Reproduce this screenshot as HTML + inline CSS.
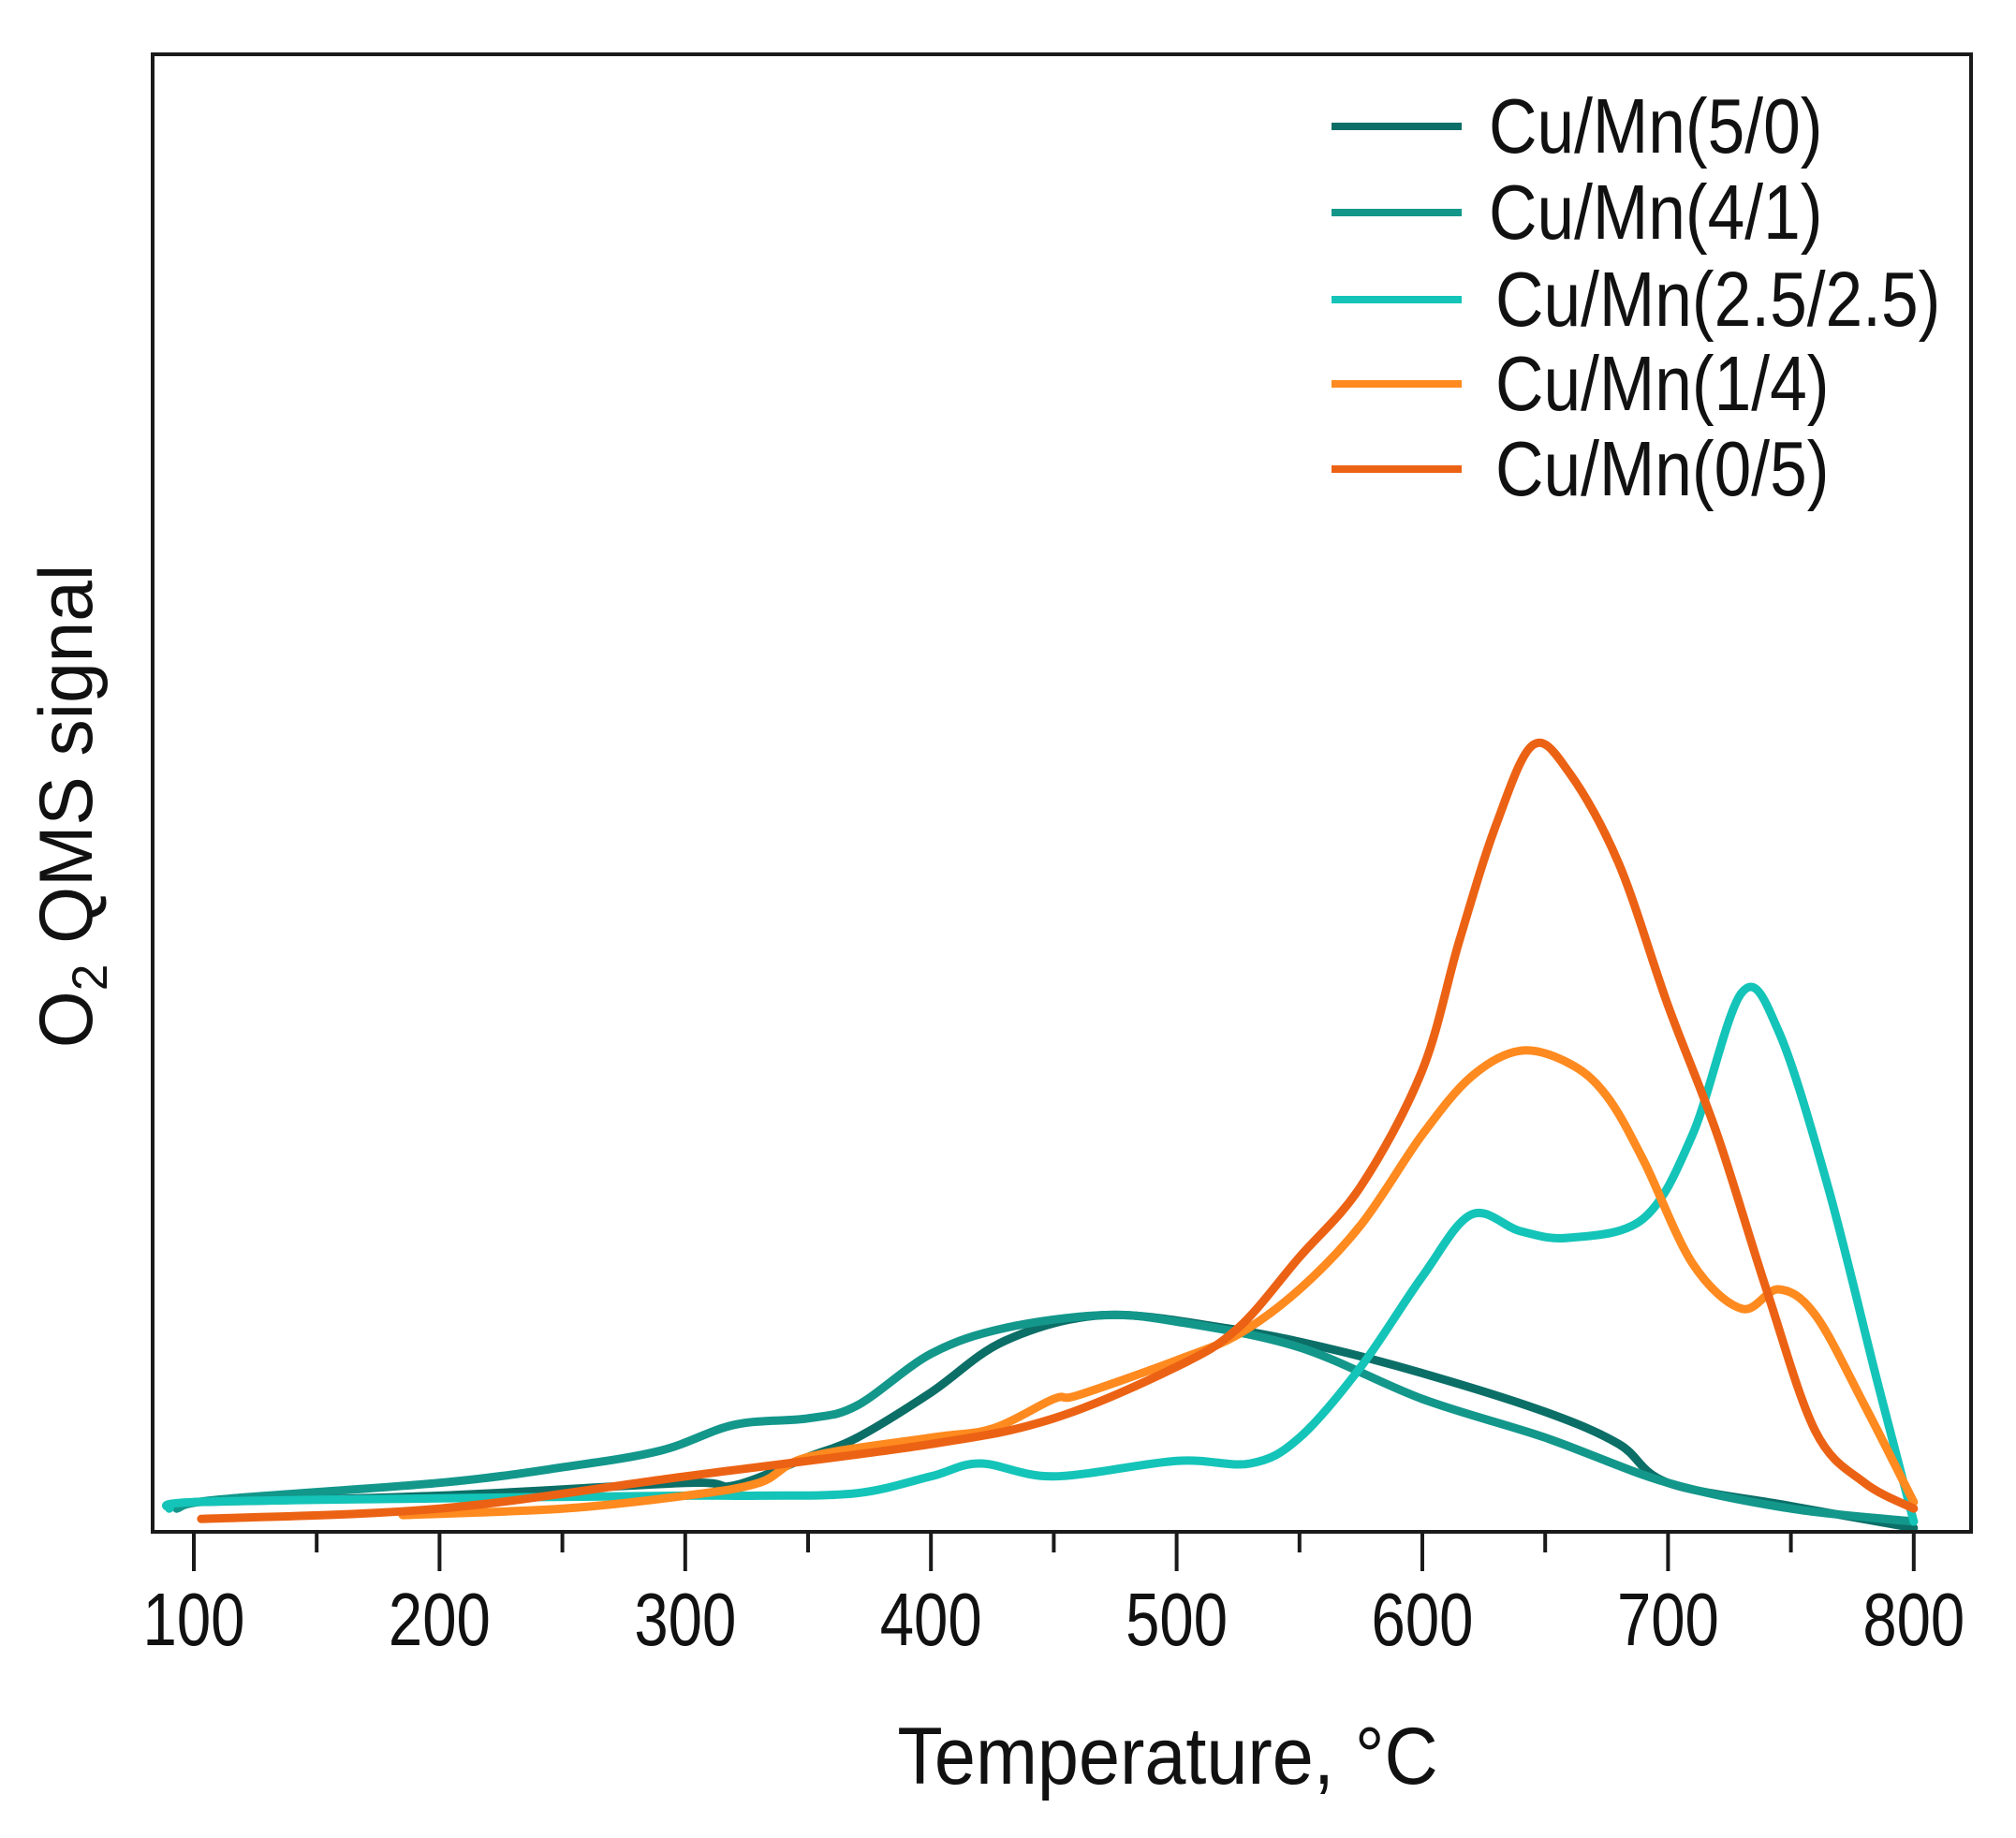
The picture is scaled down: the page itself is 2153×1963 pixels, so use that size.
<!DOCTYPE html>
<html><head><meta charset="utf-8"><style>
html,body{margin:0;padding:0;background:#fff;}
svg{display:block;font-family:"Liberation Sans",Arial,sans-serif;}
</style></head><body>
<svg id="chart" width="2153" height="1963" viewBox="0 0 2153 1963" xmlns="http://www.w3.org/2000/svg">
<rect x="0" y="0" width="2153" height="1963" fill="#fff"/>
<g id="series"></g>
<rect x="163" y="58" width="1942" height="1578" fill="none" stroke="#1a1a1a" stroke-width="4"/>
<g id="ticks"></g>
<text x="1247" y="1905" font-size="72" text-anchor="middle" fill="#111" transform="translate(1247 1905) scale(1.1 1.2) translate(-1247 -1905)">Temperature,  °C</text>
<text transform="translate(98 861) rotate(-90) scale(1.12 1.15)" font-size="70" text-anchor="middle" fill="#111">O<tspan font-size="46" dy="14">2</tspan><tspan dy="-14"> QMS signal</tspan></text>
<g id="legend"></g>
</svg>
<script>
var categories = ["Cu/Mn(5/0)","Cu/Mn(4/1)","Cu/Mn(2.5/2.5)","Cu/Mn(1/4)","Cu/Mn(0/5)"];
var colors = ["#0b6f67","#13978b","#14c4b8","#ff8a1f","#ec6214"];
var xTicks = [100,200,300,400,500,600,700,800];
var s50T = [100,200,300,320,350,370,400,430,470,520,560,600,650,680,700,750,800];
var s50V = [23,28,38,36,58,73,108,148,168,158,143,123,93,68,38,20,3];
var s41T = [93,110,200,250,290,320,350,370,400,430,470,500,550,600,650,700,750,800];
var s41V = [18,25,38,50,63,83,88,98,138,158,168,163,143,103,73,38,18,8];
var s25T = [90,100,200,300,330,370,400,420,450,500,530,550,575,600,620,640,660,690,710,730,745,765,785,800];
var s25V = [18,23,26,28,28,30,43,53,43,55,53,73,128,198,246,233,228,243,308,418,388,268,118,8];
var s14T = [185,250,300,330,350,400,425,450,460,500,525,550,575,600,620,640,660,675,690,710,730,745,760,780,800];
var s14V = [13,18,28,38,58,73,80,103,106,133,153,188,238,308,353,373,363,338,288,208,173,188,168,98,23];
var s05T = [103,200,300,400,450,500,525,550,575,600,615,630,645,660,680,700,720,740,760,780,800];
var s05V = [10,18,43,68,88,128,158,213,268,358,458,548,610,588,518,408,308,188,78,38,18];
var seriesT = [s50T,s41T,s25T,s14T,s05T];
var seriesV = [s50V,s41V,s25V,s14V,s05V];

var NS="http://www.w3.org/2000/svg";
function xs(t){return 207+(t-100)*2.624;}
function ys(v){return 1636-v*1.3775;}
function path(T,V){
  var p=T.map(function(t,i){return [xs(t),ys(V[i])];});
  var d="M"+p[0][0].toFixed(1)+","+p[0][1].toFixed(1);
  for(var i=0;i<p.length-1;i++){
    var p0=p[Math.max(0,i-1)],p1=p[i],p2=p[i+1],p3=p[Math.min(p.length-1,i+2)];
    var c1x=p1[0]+(p2[0]-p0[0])/6,c1y=p1[1]+(p2[1]-p0[1])/6;
    var c2x=p2[0]-(p3[0]-p1[0])/6,c2y=p2[1]-(p3[1]-p1[1])/6;
    d+=" C"+c1x.toFixed(1)+","+c1y.toFixed(1)+" "+c2x.toFixed(1)+","+c2y.toFixed(1)+" "+p2[0].toFixed(1)+","+p2[1].toFixed(1);
  }
  return d;
}
var sg=document.getElementById("series");
for(var k=0;k<categories.length;k++){
  var pe=document.createElementNS(NS,"path");
  pe.setAttribute("d",path(seriesT[k],seriesV[k]));
  pe.setAttribute("fill","none");
  pe.setAttribute("stroke",colors[k]);
  pe.setAttribute("stroke-width","9");
  pe.setAttribute("stroke-linecap","round");
  pe.setAttribute("stroke-linejoin","round");
  
  
  sg.appendChild(pe);
}
var tg=document.getElementById("ticks");
for(var t=100;t<=800;t+=50){
  var major=(t%100===0);
  var ln=document.createElementNS(NS,"line");
  ln.setAttribute("x1",xs(t));ln.setAttribute("x2",xs(t));
  ln.setAttribute("y1",1636);ln.setAttribute("y2",major?1678:1658);
  ln.setAttribute("stroke","#1a1a1a");ln.setAttribute("stroke-width","4");
  
  
  tg.appendChild(ln);
}
xTicks.forEach(function(t){
  var tx=document.createElementNS(NS,"text");
  var X=xs(t);
  tx.setAttribute("x",X);tx.setAttribute("y",1757);
  tx.setAttribute("font-size","64");tx.setAttribute("text-anchor","middle");tx.setAttribute("fill","#111");
  tx.setAttribute("transform","translate("+X+" 1757) scale(1.02 1.25) translate("+(-X)+" -1757)");
  tx.textContent=t;
  
  
  tg.appendChild(tx);
});
var lg=document.getElementById("legend");
var rowsY=[135,227,320,410,501];
var textX=[1590,1590,1597,1597,1597];
for(var k=0;k<categories.length;k++){
  var l=document.createElementNS(NS,"line");
  l.setAttribute("x1",1422);l.setAttribute("x2",1561);l.setAttribute("y1",rowsY[k]);l.setAttribute("y2",rowsY[k]);
  l.setAttribute("stroke",colors[k]);l.setAttribute("stroke-width","8");
  
  
  lg.appendChild(l);
  var tx=document.createElementNS(NS,"text");
  var Y=rowsY[k]+28;
  tx.setAttribute("x",textX[k]);tx.setAttribute("y",Y);
  tx.setAttribute("font-size","72");tx.setAttribute("fill","#111");
  tx.setAttribute("transform","translate("+textX[k]+" "+Y+") scale(0.99 1.15) translate("+(-textX[k])+" "+(-Y)+")");
  tx.textContent=categories[k];
  
  
  lg.appendChild(tx);
}
</script>
</body></html>
